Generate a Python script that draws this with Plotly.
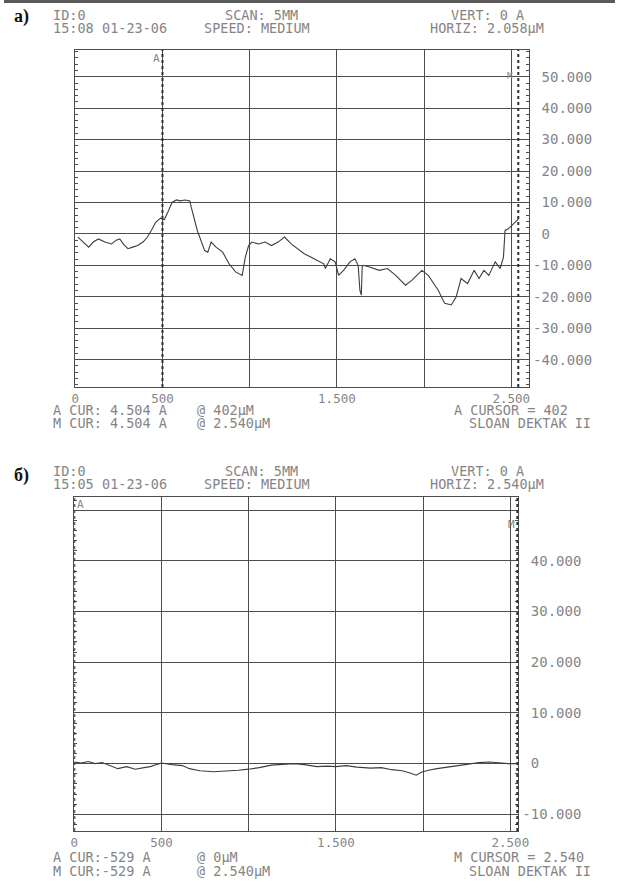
import plotly.graph_objects as go

W, H = 626, 885

# ---- surface profile, scan a (x in µm) ----
a_x = [15, 45, 77, 105, 133, 170, 208, 235, 255, 280, 302, 330, 358, 390, 414,
       440, 461, 489, 510, 526, 545, 555, 580, 601, 630, 657, 665, 700, 742, 760,
       779, 807, 845, 882, 919, 957, 975, 994, 1013, 1051, 1088, 1125, 1163, 1200,
       1238, 1275, 1313, 1369, 1425, 1434, 1462, 1490, 1510, 1538, 1575, 1603, 1622,
       1632, 1640, 1645, 1650, 1687, 1743, 1790, 1837, 1893, 1931, 1987, 2024, 2081,
       2118, 2156, 2184, 2212, 2249, 2287, 2315, 2343, 2371, 2408, 2436, 2455, 2464,
       2483, 2511, 2540]
a_y = [-1.0, -2.5, -4.2, -2.5, -1.6, -2.6, -3.2, -2.0, -1.6, -3.5, -4.7, -4.2, -3.7, -2.5, -1.0,
       1.5, 3.7, 5.0, 4.5, 6.3, 8.4, 10.0, 10.8, 10.5, 10.8, 10.5, 8.5, 1.0, -5.3, -5.8,
       -2.6, -4.2, -5.8, -9.5, -12.1, -13.2, -7.4, -3.7, -2.6, -3.2, -2.6, -3.7, -2.6, -1.0,
       -3.2, -4.7, -6.3, -7.9, -9.5, -11.0, -7.9, -8.9, -13.2, -11.6, -8.9, -7.9, -10.0,
       -18.0, -19.5, -10.5, -10.0, -10.5, -11.6, -11.0, -13.2, -16.3, -14.7, -11.6, -13.2, -17.9,
       -22.1, -22.6, -20.0, -14.2, -15.8, -11.6, -14.2, -11.6, -13.2, -8.9, -11.0, -7.4, 1.1,
       1.6, 3.2, 4.7]

# ---- surface profile, scan б ----
b_x = [0, 40, 80, 120, 160, 200, 250, 300, 350, 400, 436, 480, 500, 560, 620, 660,
       720, 800, 880, 940, 1000, 1060, 1130, 1200, 1260, 1320, 1390, 1450, 1500, 1560,
       1620, 1700, 1760, 1820, 1880, 1930, 1960, 1990, 2030, 2080, 2131, 2200, 2260,
       2319, 2380, 2440, 2487, 2540]
b_y = [0.3, 0.1, 0.4, 0.0, 0.2, -0.3, -1.0, -0.6, -1.1, -0.8, -0.6, -0.1, 0.1, -0.2, -0.4, -1.0,
       -1.4, -1.6, -1.5, -1.3, -1.1, -0.8, -0.3, -0.1, 0.0, -0.2, -0.6, -0.5, -0.6, -0.4,
       -0.7, -0.9, -0.8, -1.2, -1.4, -1.9, -2.3, -1.7, -1.3, -1.0, -0.8, -0.4, -0.1,
       0.2, 0.3, 0.1, 0.0, 0.0]

# ---- axes ----
x_ticks = [0, 500, 1000, 1500, 2000, 2500]
x_ticktext = ["0", "500", "", "1.500", "", "2.500"]
a_y_ticks = [50, 40, 30, 20, 10, 0, -10, -20, -30, -40]
a_y_text = ["50.000", "40.000", "30.000", "20.000", "10.000", "0",
            "-10.000", "-20.000", "-30.000", "-40.000"]
b_y_ticks = [50, 40, 30, 20, 10, 0, -10]
b_y_text = ["", "40.000", "30.000", "20.000", "10.000", "0", "-10.000"]

# cursor positions (µm)
a_cursor_A, a_cursor_M = 500, 2540
b_cursor_A, b_cursor_M = 0, 2540

MONO = "DejaVu Sans Mono"
TXT = "#858585"
GRID = "#4d4d4d"
LINE = "#3d3d3d"


def pad(s):
    # keep the digits of positive labels aligned with those of negative ones
    return s if s.startswith("-") else "\u00a0" + s


def px(x):
    return x / W


def py(y):
    return 1 - y / H


fig = go.Figure()
fig.add_trace(go.Scatter(x=a_x, y=a_y, mode="lines", xaxis="x", yaxis="y",
                         line=dict(color=LINE, width=1.1), hoverinfo="skip"))
fig.add_trace(go.Scatter(x=b_x, y=b_y, mode="lines", xaxis="x2", yaxis="y2",
                         line=dict(color=LINE, width=1.1), hoverinfo="skip"))


def xaxis(domain, rng, anchor):
    return dict(domain=domain, range=rng, anchor=anchor, tickvals=x_ticks, ticktext=x_ticktext,
                showgrid=True, gridcolor=GRID, gridwidth=1.4, zeroline=False,
                showline=True, linecolor=GRID, linewidth=1.4, mirror=True, ticks="",
                tickfont=dict(family=MONO, size=12.5, color=TXT), fixedrange=True)


def yaxis(domain, rng, anchor, vals, text):
    return dict(domain=domain, range=rng, anchor=anchor, side="right", tickvals=vals,
                ticktext=[pad(t) if t else t for t in text],
                showgrid=True, gridcolor=GRID, gridwidth=1.4, zeroline=False,
                showline=True, linecolor=GRID, linewidth=1.4, mirror="ticks", ticks="",
                minor=dict(ticks="inside", dtick=2, ticklen=3, tickcolor=GRID, tickwidth=1,
                           showgrid=False),
                tickfont=dict(family=MONO, size=14, color=TXT), fixedrange=True)


shapes = [
    # dark edge along the top of the sheet
    dict(type="rect", xref="paper", yref="paper", x0=0, x1=1, y0=py(3), y1=1,
         fillcolor="#5a5a5a", line=dict(width=0), layer="above"),
]
for xr, yr, xv in [("x", "y domain", a_cursor_A), ("x", "y domain", a_cursor_M),
                   ("x2", "y2 domain", b_cursor_A), ("x2", "y2 domain", b_cursor_M)]:
    shapes.append(dict(type="line", xref=xr, yref=yr, x0=xv, x1=xv, y0=0, y1=1,
                       line=dict(color="#2e2e2e", width=2, dash="dot"), layer="above"))

annotations = []


def txt(x, y, s, size=13.5, color=TXT, family=MONO, bold=False):
    annotations.append(dict(xref="paper", yref="paper", x=px(x - 4), y=py(y),
                            text=("<b>%s</b>" % s) if bold else s,
                            showarrow=False, xanchor="left", yanchor="middle",
                            font=dict(family=family, size=size, color=color)))


# panel a header
txt(12, 17, "a)", size=18, color="#111", family="Liberation Serif", bold=True)
txt(52, 15, "ID:0")
txt(228, 15, "SCAN: 5MM")
txt(460, 15, "VERT: 0 A")
txt(52, 28, "15:08")
txt(102, 28, "01-23-06")
txt(207, 28, "SPEED: MEDIUM")
txt(438, 28, "HORIZ: 2.058µM")
txt(155, 58, "A", size=11)
txt(517, 76, "M", size=9)
# panel a footer
txt(52, 410, "A CUR: 4.504 A")
txt(200, 410, "@ 402µM")
txt(463, 410, "A CURSOR = 402")
txt(52, 423, "M CUR: 4.504 A")
txt(200, 423, "@ 2.540µM")
txt(478, 423, "SLOAN DEKTAK II")

# panel б header
txt(12, 475, "б)", size=18, color="#111", family="Liberation Serif", bold=True)
txt(52, 471, "ID:0")
txt(228, 471, "SCAN: 5MM")
txt(460, 471, "VERT: 0 A")
txt(52, 484, "15:05")
txt(102, 484, "01-23-06")
txt(207, 484, "SPEED: MEDIUM")
txt(438, 484, "HORIZ: 2.540µM")
txt(77, 505, "A", size=11)
txt(518, 524, "M", size=11)
# panel б footer
txt(52, 857, "A CUR:-529 A")
txt(200, 857, "@ 0µM")
txt(463, 857, "M CURSOR = 2.540")
txt(52, 871, "M CUR:-529 A")
txt(200, 871, "@ 2.540µM")
txt(478, 871, "SLOAN DEKTAK II")

fig.update_layout(
    width=W, height=H, autosize=False,
    margin=dict(l=0, r=0, t=0, b=0),
    paper_bgcolor="white", plot_bgcolor="white",
    showlegend=False,
    xaxis=xaxis([px(73), px(538)], [0, 2602], "y"),
    yaxis=yaxis([py(387), py(50)], [-48.7, 58.5], "x", a_y_ticks, a_y_text),
    xaxis2=xaxis([px(72), px(527)], [0, 2546], "y2"),
    yaxis2=yaxis([py(831), py(497)], [-13.3, 52.6], "x2", b_y_ticks, b_y_text),
    shapes=shapes,
    annotations=annotations,
)

fig.write_html("out.html")
